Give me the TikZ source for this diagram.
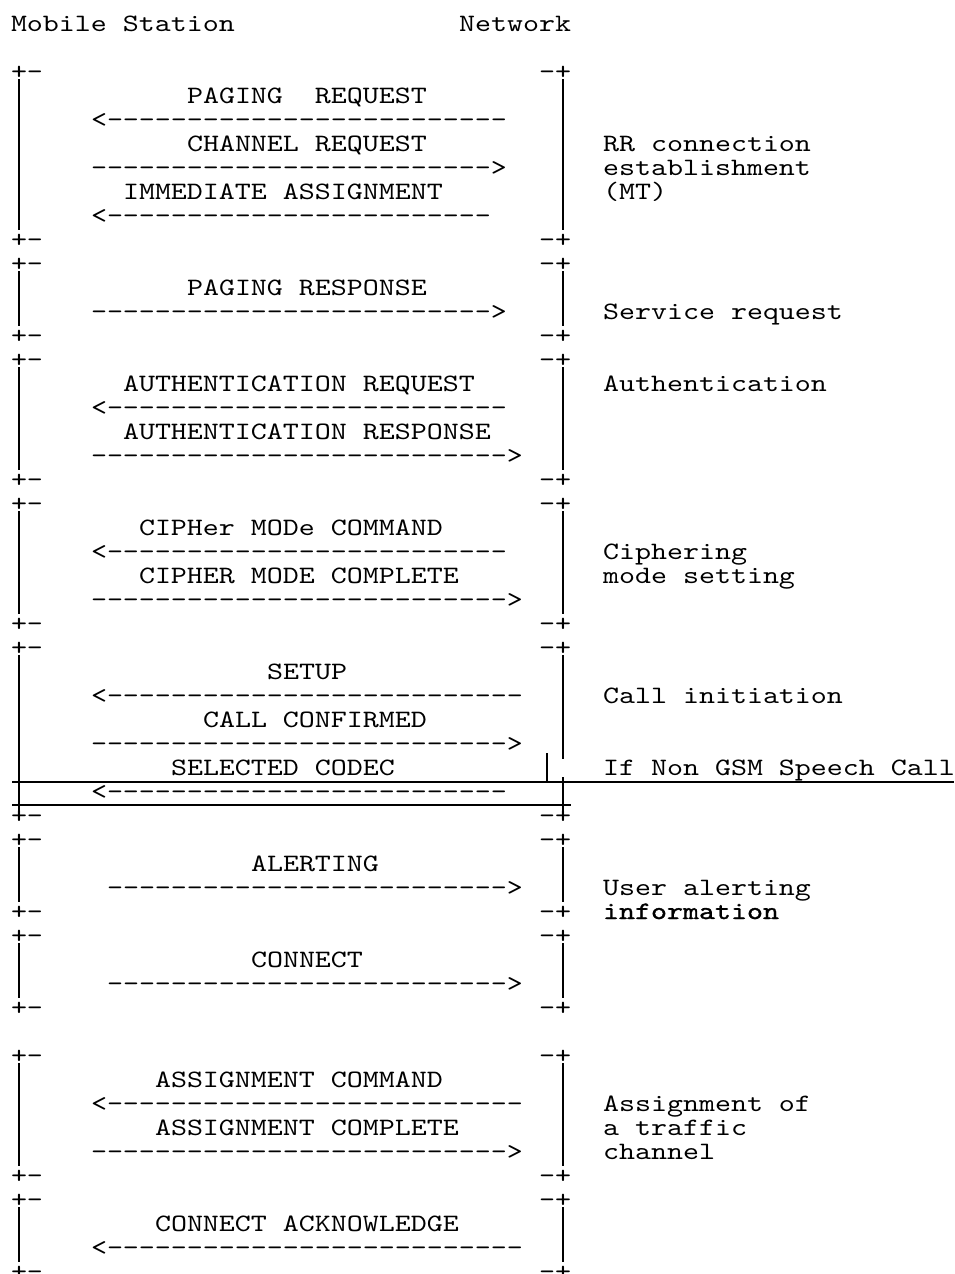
\documentclass[tikz,border=0pt]{standalone}
\usepackage{fontspec}
\newfontfamily\cour{lmmono10-regular.otf}[FakeStretch=1.219]
\newfontfamily\courhv{lmmono10-regular.otf}[FakeStretch=1.219,FakeBold=1.2]
\newcommand{\toms}[1]{<\foreach \i in {1,...,#1}{-}}
\newcommand{\tonet}[1]{\foreach \i in {1,...,#1}{-}>}
\begin{document}
\begin{tikzpicture}[x=1pt,y=-1pt,
  lbl/.style={anchor=base west,inner sep=0pt,outer sep=0pt,
    font=\cour\fontsize{25pt}{28pt}\selectfont},
  bar/.style={line width=1.2pt}]

\useasboundingbox (0,0) rectangle (954,1274);

\node[lbl] (ms) at (11,31) {Mobile Station};
\node[lbl] (net) at (459,31) {Network};

% box corners
\foreach \r in {2,9,10,13,14,19,20,25,26,33,34,37,38,41,43,48,49,52}
  {\node[lbl] (lc\r) at (11,{31+24*\r}) {+-};
   \node[lbl] (rc\r) at (539,{31+24*\r}) {-+};}

% box sides
\foreach \a/\b in {2/9,10/13,14/19,20/25,34/37,38/41,43/48,49/52}
  {\draw[bar] (19,{31+24*\a}) -- (19,{14+24*\b});
   \draw[bar] (563,{31+24*\a}) -- (563,{14+24*\b});}

% call initiation box with codec part
\draw[bar] (19,655) -- (19,812);
\draw[bar] (563,655) -- (563,759);
\draw[bar] (563,777) -- (563,812);
\draw[bar] (547,753) -- (547,782);
\draw[bar] (12,782) -- (954,782);
\draw[bar] (12,805) -- (571,805);

% RR connection
\node[lbl] (pagreq) at (187,103) {PAGING\ \ REQUEST};
\node[lbl] (pagreqa) at (91,127) {\toms{25}};
\node[lbl] (chanreq) at (187,151) {CHANNEL REQUEST};
\node[lbl] (chanreqa) at (91,175) {\tonet{25}};
\node[lbl] (immass) at (123,199) {IMMEDIATE ASSIGNMENT};
\node[lbl] (immassa) at (91,223) {\toms{24}};
\node[lbl] (rr1) at (603,151) {RR connection};
\node[lbl] (rr2) at (603,175) {establishment};
\node[lbl] (rr3) at (603,199) {(MT)};

% service request
\node[lbl] (pagresp) at (187,295) {PAGING RESPONSE};
\node[lbl] (pagrespa) at (91,319) {\tonet{25}};
\node[lbl] (servreq) at (603,319) {Service request};

% authentication
\node[lbl] (authreq) at (123,391) {AUTHENTICATION REQUEST};
\node[lbl] (authreqa) at (91,415) {\toms{25}};
\node[lbl] (authresp) at (123,439) {AUTHENTICATION RESPONSE};
\node[lbl] (authrespa) at (91,463) {\tonet{26}};
\node[lbl] (auth) at (603,391) {Authentication};

% ciphering
\node[lbl] (ciphcmd) at (139,535) {CIPHer MODe COMMAND};
\node[lbl] (ciphcmda) at (91,559) {\toms{25}};
\node[lbl] (ciphcmp) at (139,583) {CIPHER MODE COMPLETE};
\node[lbl] (ciphcmpa) at (91,607) {\tonet{26}};
\node[lbl] (ciph1) at (603,559) {Ciphering};
\node[lbl] (ciph2) at (603,583) {mode setting};

% call initiation
\node[lbl] (setup) at (267,679) {SETUP};
\node[lbl] (setupa) at (91,703) {\toms{26}};
\node[lbl] (callconf) at (203,727) {CALL CONFIRMED};
\node[lbl] (callconfa) at (91,751) {\tonet{26}};
\node[lbl] (selcod) at (171,775) {SELECTED CODEC};
\node[lbl] (selcoda) at (91,799) {\toms{25}};
\node[lbl] (callinit) at (603,703) {Call initiation};
\node[lbl] (nongsm) at (603,775) {If Non GSM Speech Call};

% alerting
\node[lbl] (alert) at (251,871) {ALERTING};
\node[lbl] (alerta) at (107,895) {\tonet{25}};
\node[lbl] (ual1) at (603,895) {User alerting};
\node[lbl,font=\courhv\fontsize{25pt}{28pt}\selectfont] (ual2) at (603,919) {information};

% connect
\node[lbl] (conn) at (251,967) {CONNECT};
\node[lbl] (conna) at (107,991) {\tonet{25}};

% traffic channel
\node[lbl] (asscmd) at (155,1087) {ASSIGNMENT COMMAND};
\node[lbl] (asscmda) at (91,1111) {\toms{26}};
\node[lbl] (asscmp) at (155,1135) {ASSIGNMENT COMPLETE};
\node[lbl] (asscmpa) at (91,1159) {\tonet{26}};
\node[lbl] (tch1) at (603,1111) {Assignment of};
\node[lbl] (tch2) at (603,1135) {a traffic};
\node[lbl] (tch3) at (603,1159) {channel};

% connect acknowledge
\node[lbl] (connack) at (155,1231) {CONNECT ACKNOWLEDGE};
\node[lbl] (connacka) at (91,1255) {\toms{26}};
\end{tikzpicture}
\end{document}
